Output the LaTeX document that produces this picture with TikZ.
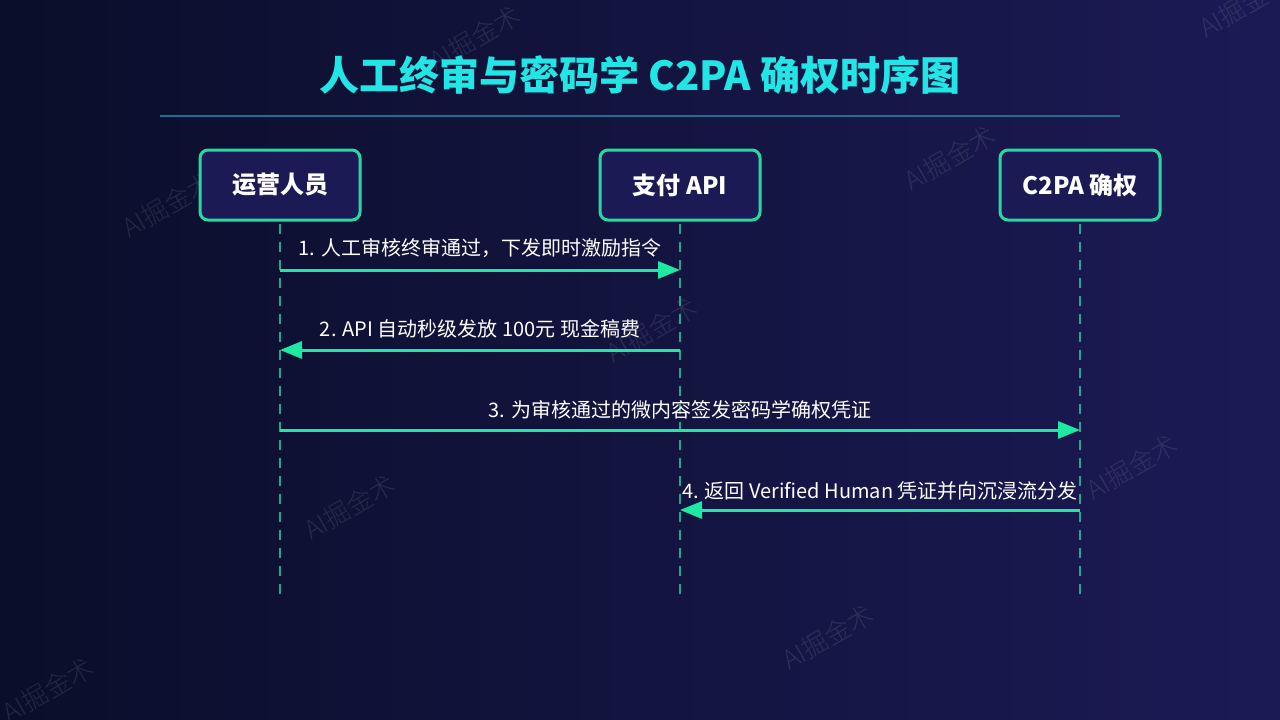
\documentclass[tikz,border=0pt]{standalone}
\usepackage{fontspec}
\usetikzlibrary{arrows.meta}
\newfontfamily\cjk{Noto Sans CJK SC}
\newfontfamily\cjklight{Noto Sans CJK SC Light}
\definecolor{bgl}{HTML}{0A0E2A}
\definecolor{bgr}{HTML}{1C1A55}
\definecolor{boxfill}{HTML}{1B1A55}
\definecolor{boxline}{HTML}{27D9A1}
\definecolor{arr}{HTML}{1EE8A2}
\definecolor{life}{HTML}{1FA88A}
\definecolor{ttl}{HTML}{22E6E6}
\definecolor{rule}{HTML}{1F6F8F}
\tikzset{
  actor/.style={draw=boxline, line width=3pt, fill=boxfill, rounded corners=8pt,
    minimum width=160pt, minimum height=70pt, inner sep=0pt,
    text=white, font=\cjk\bfseries\fontsize{24}{28}\selectfont},
  lifeline/.style={draw=life, line width=2pt, dash pattern=on 10pt off 8pt},
  msg/.style={draw=arr, line width=3pt, -{Triangle[length=22pt,width=17pt]}},
  msglabel/.style={text=white, font=\cjk\fontsize{20}{24}\selectfont, inner sep=0pt},
  wm/.style={text=white, opacity=0.1, rotate=30, font=\cjklight\fontsize{26}{30}\selectfont, inner sep=0pt}
}
\begin{document}
\begin{tikzpicture}[x=1pt,y=-1pt]
\shade[left color=bgl, right color=bgr] (0,0) rectangle (1280,720);
\useasboundingbox (0,0) rectangle (1280,720);
% watermarks
\node[wm] (w1) at (475,38) {AI掘金术};
\node[wm] (w2) at (1245,5) {AI掘金术};
\node[wm] (w3) at (168,205) {AI掘金术};
\node[wm] (w4) at (950,158) {AI掘金术};
\node[wm] (w5) at (652,330) {AI掘金术};
\node[wm] (w6) at (350,507) {AI掘金术};
\node[wm] (w7) at (1132,467) {AI掘金术};
\node[wm] (w8) at (828,637) {AI掘金术};
\node[wm] (w9) at (48,690) {AI掘金术};
% title
\node[text=ttl, font=\cjk\bfseries\fontsize{40}{46}\selectfont] (title) at (640,75) {人工终审与密码学 C2PA 确权时序图};
\coordinate (rl) at (160,116);
\coordinate (rr) at (1120,116);
\draw[rule, line width=2pt] (rl) -- (rr);
% actors
\node[actor] (a) at (280,185) {运营人员};
\node[actor] (b) at (680,185) {支付 API};
\node[actor] (c) at (1080,185) {C2PA 确权};
\coordinate (ae) at (280,598);
\coordinate (be) at (680,598);
\coordinate (ce) at (1080,598);
\draw[lifeline] (a.south) ++(0,2) -- (ae);
\draw[lifeline] (b.south) ++(0,2) -- (be);
\draw[lifeline] (c.south) ++(0,2) -- (ce);
% messages
\coordinate (a1) at (280,270); \coordinate (b1) at (680,270);
\coordinate (a2) at (280,350); \coordinate (b2) at (680,350);
\coordinate (a3) at (280,430); \coordinate (c3) at (1080,430);
\coordinate (b4) at (680,510); \coordinate (c4) at (1080,510);
\draw[msg] (a1) -- (b1);
\draw[msg] (b2) -- (a2);
\draw[msg] (a3) -- (c3);
\draw[msg] (c4) -- (b4);
\node[msglabel] (l1) at (480,248) {1. 人工审核终审通过，下发即时激励指令};
\node[msglabel] (l2) at (480,329) {2. API 自动秒级发放 100元 现金稿费};
\node[msglabel] (l3) at (680,410) {3. 为审核通过的微内容签发密码学确权凭证};
\node[msglabel] (l4) at (880,491) {4. 返回 Verified Human 凭证并向沉浸流分发};
\end{tikzpicture}
\end{document}
